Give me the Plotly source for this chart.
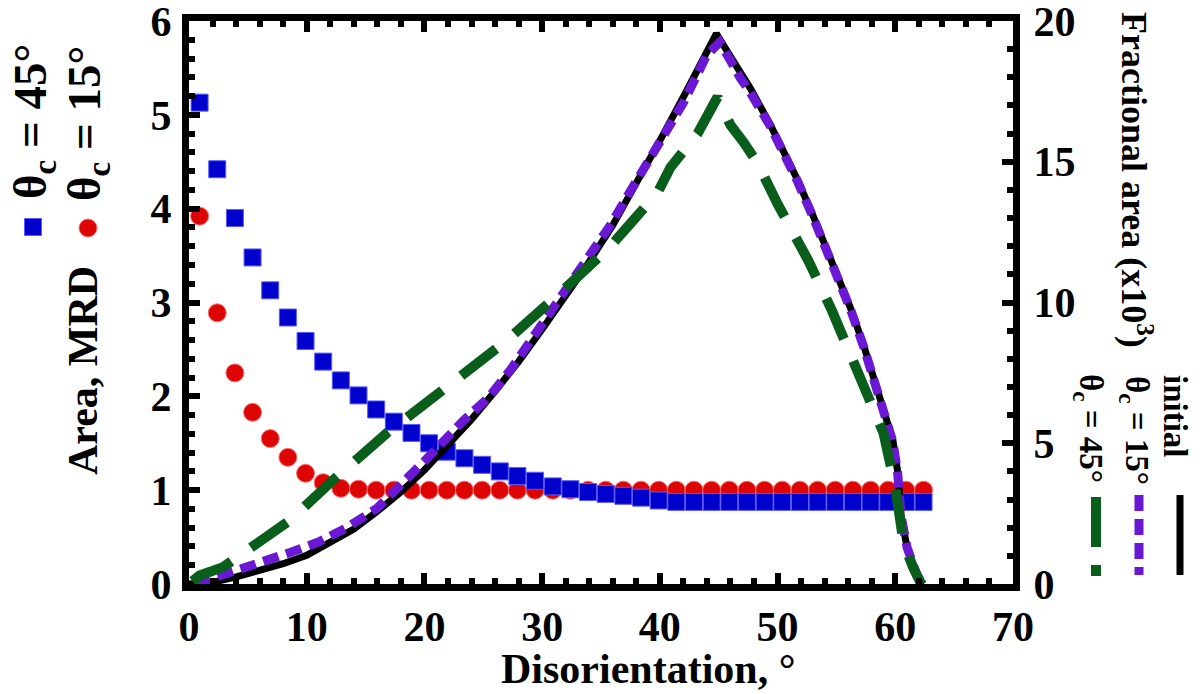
import plotly.graph_objects as go

# ---------------- data ----------------
x_bins = [0.9, 2.4, 3.9, 5.4, 6.9, 8.4, 9.9, 11.4, 12.9, 14.4, 15.9, 17.4, 18.9, 20.4,
          21.9, 23.4, 24.9, 26.4, 27.9, 29.4, 30.9, 32.4, 33.9, 35.4, 36.9, 38.4, 39.9,
          41.4, 42.9, 44.4, 45.9, 47.4, 48.9, 50.4, 51.9, 53.4, 54.9, 56.4, 57.9, 59.4,
          60.9, 62.4]
mrd_45 = [5.13, 4.42, 3.90, 3.48, 3.13, 2.84, 2.59, 2.37, 2.17, 2.01, 1.86, 1.73, 1.61,
          1.50, 1.41, 1.34, 1.27, 1.20, 1.15, 1.10, 1.04, 1.01, 0.98, 0.96, 0.94, 0.92,
          0.89, 0.875, 0.875, 0.875, 0.875, 0.875, 0.875, 0.875, 0.875, 0.875, 0.875,
          0.875, 0.875, 0.875, 0.875, 0.875]
mrd_15 = [3.92, 2.89, 2.25, 1.83, 1.55, 1.35, 1.18, 1.08, 1.02, 1.01, 1.00, 1.00, 1.00,
          1.00, 1.00, 1.00, 1.00, 1.00, 1.00, 1.00, 1.00, 1.00, 1.00, 1.00, 1.00, 1.00,
          1.00, 1.00, 1.00, 1.00, 1.00, 1.00, 1.00, 1.00, 1.00, 1.00, 1.00, 1.00, 1.00,
          1.00, 1.00, 1.00]

init_x = [0, 2, 4, 6, 8, 10, 12, 14, 16, 18, 20, 22, 24, 26, 28, 30, 32, 34, 36, 38, 40,
          42, 44, 44.8, 46.2, 47.7, 49.4, 50.4, 51.7, 53.0, 54.7, 56.2, 57.3, 58.7, 59.8,
          60.2, 60.5, 61.0, 61.9, 62.4]
init_y = [0, 0.06, 0.25, 0.47, 0.72, 1.02, 1.45, 1.95, 2.58, 3.27, 4.05, 4.95, 5.85, 6.85,
          7.9, 9.05, 10.2, 11.45, 12.75, 14.2, 15.75, 17.3, 18.9, 19.55, 18.6, 17.6, 16.3,
          15.5, 14.35, 13.1, 11.4, 9.8, 8.5, 6.7, 5.1, 4.0, 2.4, 1.3, 0.25, 0]

c15_x = [0.5, 2, 3.7, 6.0, 8.6, 11.0, 13.4, 16.0, 17.9, 20.2, 23.3, 25.4, 27.3, 29.1,
         30.9, 34.1, 35.8, 37.2, 38.7, 40, 42, 44.0, 45.1, 46.8, 47.7, 49.4, 50.4, 51.7,
         53.0, 54.7, 56.2, 57.3, 58.7, 59.8, 60.2, 60.5, 61.0, 61.9, 62.4]
c15_y = [0, 0.2, 0.5, 0.8, 1.12, 1.49, 2.0, 2.7, 3.45, 4.45, 5.8, 6.6, 7.6, 8.67, 9.73,
         11.76, 12.75, 13.75, 14.8, 15.7, 17.1, 18.8, 19.25, 18.0, 17.45, 16.25, 15.45,
         14.3, 13.05, 11.35, 9.75, 8.45, 6.65, 5.05, 3.95, 2.4, 1.3, 0.25, 0]

c45_x = [0.3, 0.9, 2.9, 5, 7.1, 8.6, 12.0, 16.8, 21.9, 26.85, 31.8, 35.8, 37.7, 39.8,
         40.9, 43.2, 44.9, 46.0, 47.1, 48.3, 50.0, 51.1, 52.6, 54.6, 57.0, 59.0, 60.0,
         60.7, 61.5, 62.2]
c45_y = [0.1, 0.3, 0.6, 1.2, 1.8, 2.27, 3.6, 5.36, 7.0, 8.6, 10.44, 12.0, 12.9, 13.9,
         14.8, 16.0, 17.3, 16.3, 15.7, 14.95, 13.5, 12.7, 11.5, 9.73, 7.35, 5.36, 3.45,
         1.46, 0.6, 0]

x_ticks = [0, 10, 20, 30, 40, 50, 60, 70]

# ---------------- styling ----------------
BLUE = "#0000CC"
RED = "#DD0404"
PURPLE = "#6A18D4"
GREEN = "#0A5E1C"
FONT = "Liberation Serif"

W, H = 1202, 694
L, R, T, B = 189, 1013, 21, 584


def px(xp):
    return (xp - L) / (R - L)


def py(yp):
    return (B - yp) / (B - T)


fig = go.Figure()

fig.add_trace(go.Scatter(x=x_bins, y=mrd_15, mode="markers", name="θc = 15°",
                         marker=dict(symbol="circle", size=18, color=RED,
                                     line=dict(color="#FF7070", width=1)),
                         yaxis="y"))
fig.add_trace(go.Scatter(x=x_bins, y=mrd_45, mode="markers", name="θc = 45°",
                         marker=dict(symbol="square", size=17, color=BLUE,
                                     line=dict(color="#5A5AFF", width=1)),
                         yaxis="y"))
fig.add_trace(go.Scatter(x=init_x, y=init_y, mode="lines", name="initial",
                         line=dict(color="black", width=7), yaxis="y2"))
fig.add_trace(go.Scatter(x=c15_x, y=c15_y, mode="lines", name="θc = 15° line",
                         line=dict(color=PURPLE, width=9, dash="16px,8px"), yaxis="y2"))
fig.add_trace(go.Scatter(x=c45_x, y=c45_y, mode="lines", name="θc = 45° line",
                         line=dict(color=GREEN, width=10, dash="44px,24px"), yaxis="y2"))

tickfont = dict(family=FONT, size=42, color="black", weight="bold")
common = dict(ticks="inside", ticklen=11, tickwidth=6, tickcolor="black",
              showline=True, linewidth=7, linecolor="black", showgrid=False,
              zeroline=False, tickfont=tickfont, automargin=False,
              ticklabeloverflow="allow")

fig.update_layout(
    width=W, height=H,
    margin=dict(l=L, r=W - R, t=T, b=H - B, autoexpand=False),
    paper_bgcolor="white", plot_bgcolor="white",
    showlegend=False,
    font=dict(family=FONT, size=42, color="black", weight="bold"),
    xaxis=dict(range=[0, 70], tickvals=x_ticks, mirror="ticks", ticklabelstandoff=0,
               minor=dict(dtick=2, ticks="inside", ticklen=6, tickwidth=6,
                          tickcolor="black", showgrid=False), **common),
    yaxis=dict(range=[0, 6], dtick=1, mirror=False, ticklabelstandoff=2,
               minor=dict(dtick=0.2, ticks="inside", ticklen=6, tickwidth=6,
                          tickcolor="black", showgrid=False), **common),
    yaxis2=dict(range=[0, 20], dtick=5, overlaying="y", side="right",
                ticklabelstandoff=5,
                minor=dict(dtick=1, ticks="inside", ticklen=6, tickwidth=6,
                           tickcolor="black", showgrid=False), **common),
)

left_font = dict(family=FONT, size=47, color="black", weight="bold")
title_font = dict(family=FONT, size=42, color="black", weight="bold")
right_title_font = dict(family=FONT, size=36, color="black", weight="bold")
right_font = dict(family=FONT, size=33, color="black", weight="bold")
annotations = [
    dict(text="Disorientation, °", x=px(648), y=py(669), textangle=0, font=title_font),
    dict(text="Area, MRD", x=px(83), y=py(371), textangle=-90, font=title_font),
    dict(text="θ<sub>c</sub> = 15°", x=px(87), y=py(124), textangle=-90, font=left_font),
    dict(text="θ<sub>c</sub> = 45°", x=px(34), y=py(122), textangle=-90, font=left_font),
    dict(text="Fractional area (x10<sup>3</sup>)", x=px(1137), y=py(180), textangle=90,
         font=right_title_font),
    dict(text="initial", x=px(1175), y=py(416), textangle=90, font=right_font),
    dict(text="θ<sub>c</sub> = 15°", x=px(1135), y=py(430), textangle=90, font=right_font),
    dict(text="θ<sub>c</sub> = 45°", x=px(1089), y=py(428), textangle=90, font=right_font),
]
for a in annotations:
    fig.add_annotation(xref="paper", yref="paper", showarrow=False,
                       xanchor="center", yanchor="middle", **a)

# legend symbols
fig.add_shape(type="rect", xref="paper", yref="paper",
              x0=px(24.5), x1=px(41.5), y0=py(235.5), y1=py(218.5),
              fillcolor=BLUE, line=dict(color="#5A5AFF", width=1))
fig.add_shape(type="circle", xref="paper", yref="paper",
              x0=px(79), x1=px(97), y0=py(237), y1=py(219),
              fillcolor=RED, line=dict(color="#FF7070", width=1))
fig.add_shape(type="line", xref="paper", yref="paper",
              x0=px(1180), x1=px(1180), y0=py(495), y1=py(575),
              line=dict(color="black", width=7))
fig.add_shape(type="line", xref="paper", yref="paper",
              x0=px(1139), x1=px(1139), y0=py(495), y1=py(575),
              line=dict(color=PURPLE, width=9, dash="16px,8px"))
fig.add_shape(type="line", xref="paper", yref="paper",
              x0=px(1096), x1=px(1096), y0=py(497), y1=py(576),
              line=dict(color=GREEN, width=10, dash="50px,18px"))

fig.write_html("out.html", config={"displayModeBar": False},
               post_script="document.body.style.margin='0px';")
